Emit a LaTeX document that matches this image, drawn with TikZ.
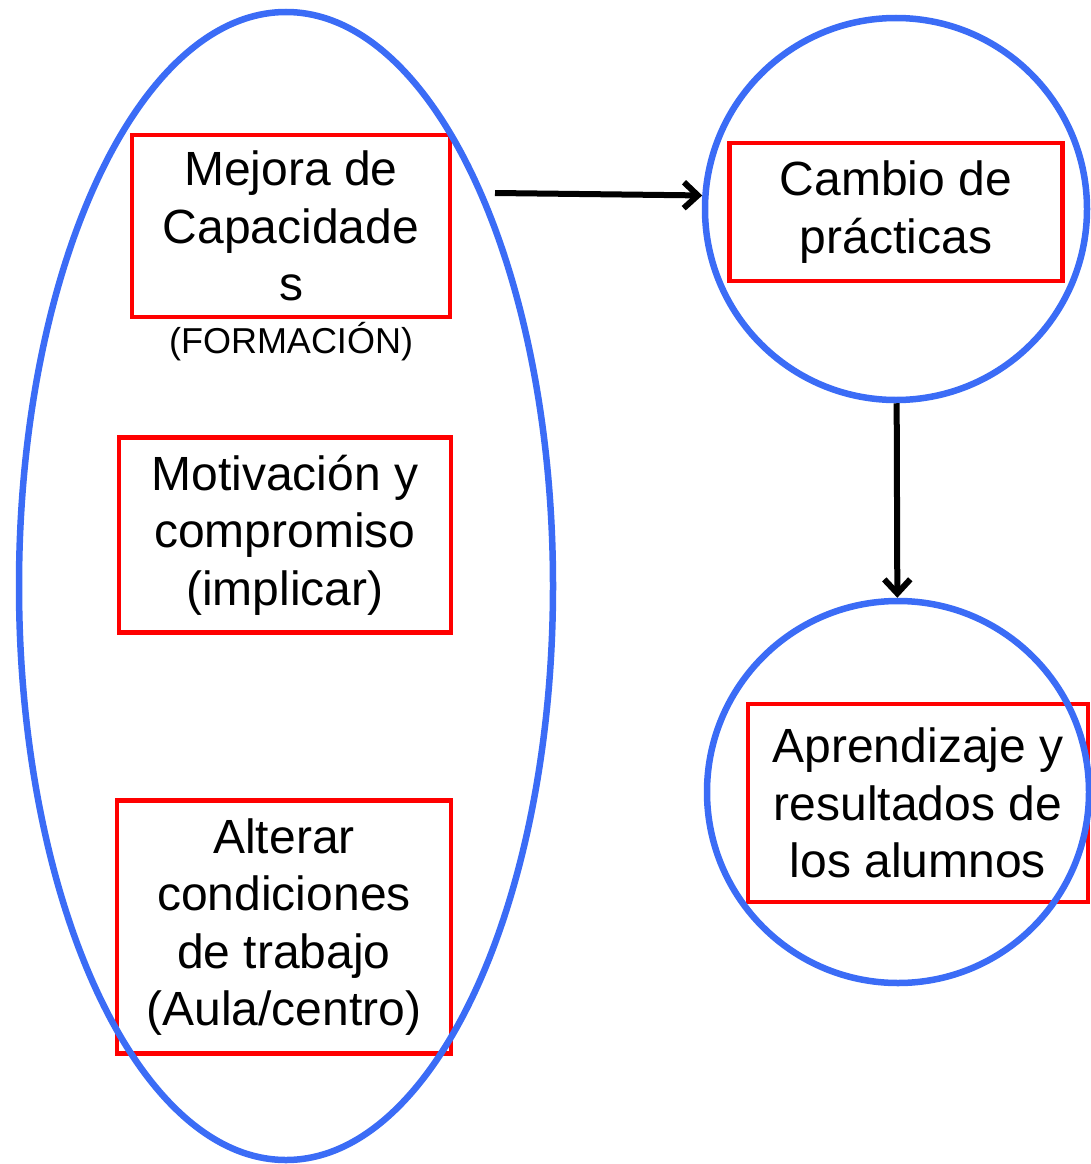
\documentclass[tikz,border=0pt]{standalone}
\usepackage{fontspec}
\setmainfont{Liberation Sans}
\usetikzlibrary{shapes.geometric,arrows.meta,positioning}
\definecolor{ovalblue}{RGB}{59,108,246}
\definecolor{boxred}{RGB}{255,0,0}
\begin{document}
\begin{tikzpicture}[x=1pt,y=-1pt]
 	\tikzstyle{box}=[rectangle, draw=boxred, line width=4.5pt, inner sep=0pt, align=center, font=\fontsize{48}{57.5}\selectfont]
 	\tikzstyle{ring}=[circle, draw=ovalblue, line width=6.5pt, minimum size=382pt]
 	\tikzstyle{connect}=[-{Straight Barb[length=14pt,width=26pt]}, line width=6pt]
 	\useasboundingbox (0,0) rectangle (1091,1164);
 	\node[box, minimum width=318pt, minimum height=182pt] (capac) at (291,226) {Mejora de\\Capacidade\\s};
 	\node[font=\fontsize{36}{43}\selectfont] (formacion) at (291,342) {(FORMACIÓN)};
 	\node[box, minimum width=332pt, minimum height=195pt] (motiv) at (285,535) {Motivación y\\compromiso\\(implicar)};
 	\node[box, minimum width=334pt, minimum height=253pt] (alterar) at (284,927) {Alterar\\condiciones\\de trabajo\\(Aula/centro)};
 	\node[box, minimum width=333pt, minimum height=138pt] (cambio) at (896,212) {Cambio de\\prácticas};
 	\node[box, minimum width=340pt, minimum height=198pt] (aprend) at (918,803) {Aprendizaje y\\resultados de\\los alumnos};
 	\node[ellipse, draw=ovalblue, line width=6.5pt, minimum width=534pt, minimum height=1148pt] (grupo) at (286,586) {};
 	\node[ring] (practicas) at (896,209) {};
 	\node[ring] (alumnos) at (898,792) {};
 	\coordinate (salida) at (495,193);
 	\path (salida) edge [connect] (practicas.176)
 	(practicas) edge [connect] (alumnos);
\end{tikzpicture}
\end{document}
